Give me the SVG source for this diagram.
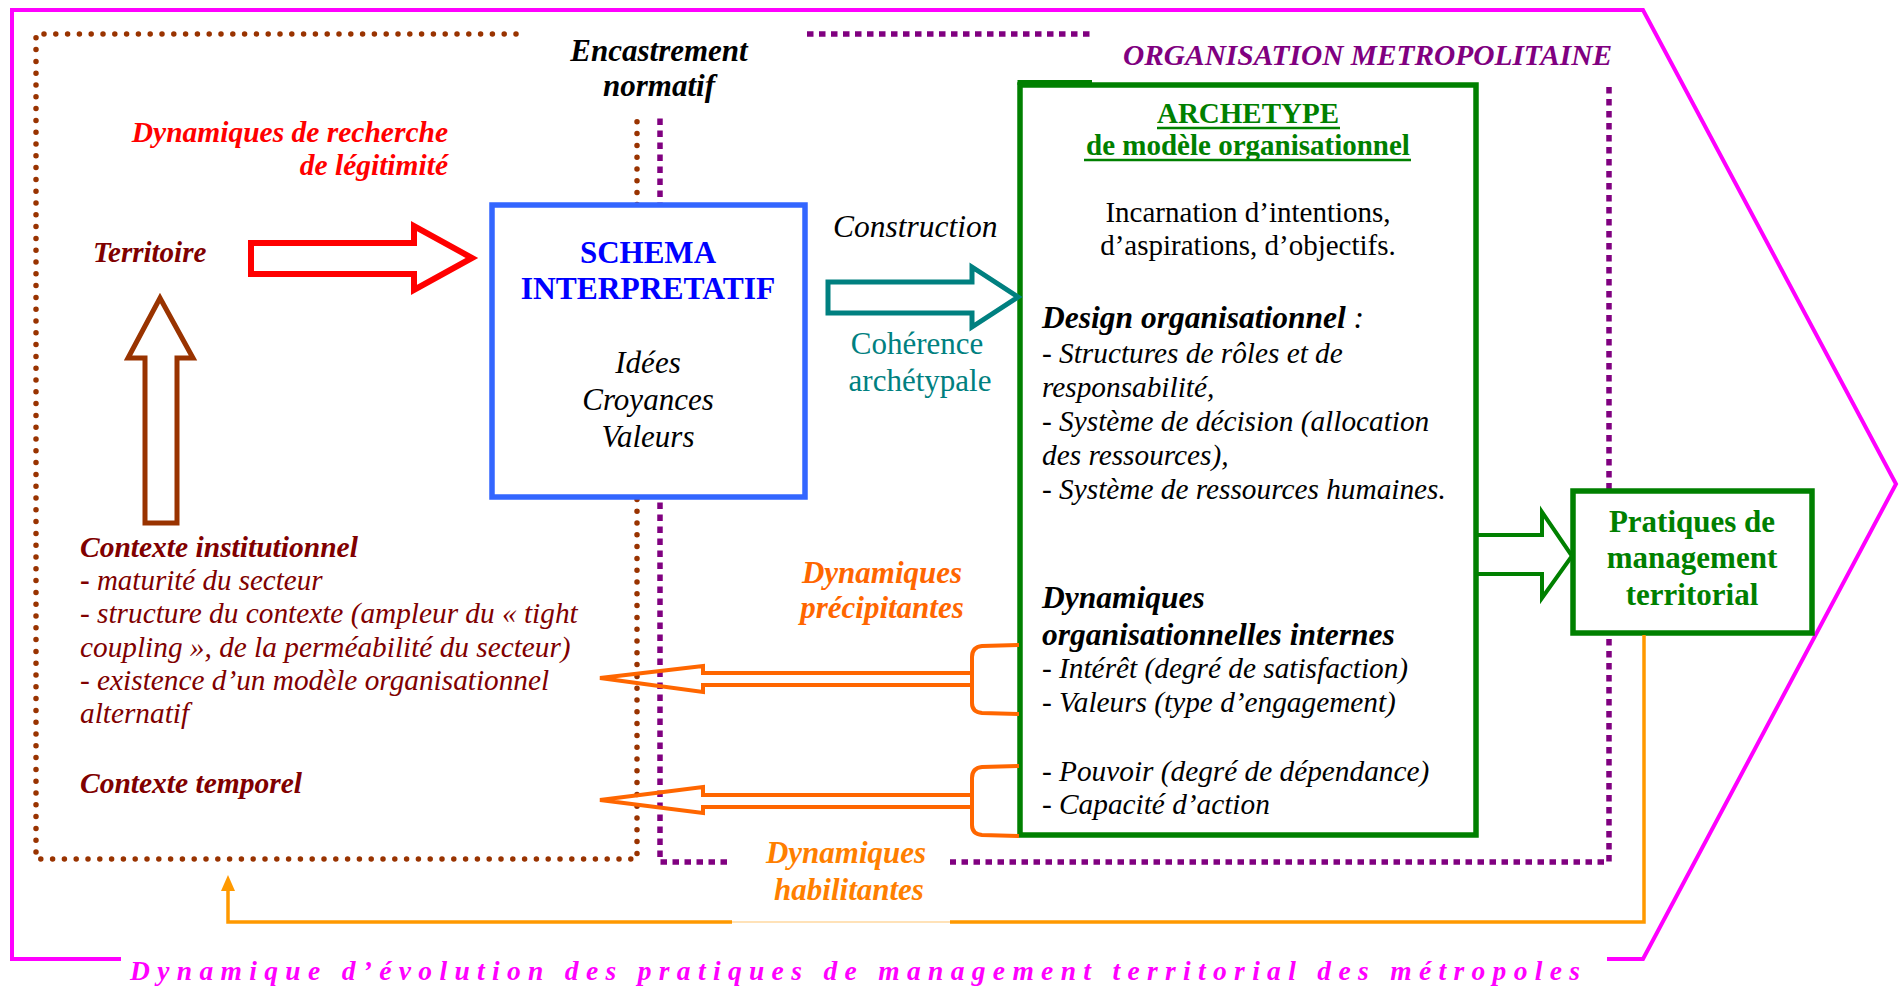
<svg xmlns="http://www.w3.org/2000/svg" width="1903" height="989" viewBox="0 0 1903 989">
<style>
text { font-family: "Liberation Serif", "Times New Roman", serif; }
.bi { font-weight: bold; font-style: italic; }
.i { font-style: italic; }
.b { font-weight: bold; }
.dr { fill: #800000; }
.c { text-anchor: middle; }
.bdot { fill: none; stroke: #993300; stroke-width: 5.5; stroke-linecap: round; stroke-dasharray: 0 11.8; }
.pdot { fill: none; stroke: #800080; stroke-width: 5.5; stroke-dasharray: 6.5 5.5; }
.orange { fill: none; stroke: #FF6600; stroke-width: 4; stroke-linejoin: miter; }
</style>
<rect x="0" y="0" width="1903" height="989" fill="#FFFFFF"/>

<!-- outer pink frame -->
<path d="M 121 959 L 12 959 L 12 10 L 1643 10 L 1896 484 L 1643 959 L 1607 959" fill="none" stroke="#FF00FF" stroke-width="4"/>
<text class="bi" x="130" y="980" font-size="27.5" fill="#FF00FF" textLength="1450" lengthAdjust="spacing">Dynamique d’évolution des pratiques de management territorial des métropoles</text>

<!-- brown dotted frame -->
<g id="cadre-territoire">
<path class="bdot" d="M 516 34 L 36 34 L 36 859 L 637 859 L 637 121"/>
</g>
<!-- purple dotted frame -->
<g id="cadre-organisation">
<path class="pdot" d="M 807 34 L 1090 34"/>
<path class="pdot" d="M 1609 87 L 1609 862 L 950 862"/>
<path class="pdot" d="M 727 862 L 660 862 L 660 118"/>
<text class="bi" x="1123" y="65" font-size="29" fill="#800080" textLength="489" lengthAdjust="spacingAndGlyphs">ORGANISATION METROPOLITAINE</text>
</g>

<g id="encastrement">
<text class="bi c" x="659" y="61" font-size="31" fill="#000">Encastrement</text>
<text class="bi c" x="659" y="96" font-size="31" fill="#000">normatif</text>
</g>

<g id="legitimite">
<text class="bi" x="448" y="142" font-size="29.5" fill="#FF0000" text-anchor="end">Dynamiques de recherche</text>
<text class="bi" x="448" y="175" font-size="29.5" fill="#FF0000" text-anchor="end">de légitimité</text>
</g>

<g id="territoire">
<text class="bi dr" x="93" y="262" font-size="29">Territoire</text>
</g>

<g id="contexte">
<text class="bi dr" x="80" y="557" font-size="29.5">Contexte institutionnel</text>
<text class="i dr" x="80" y="590" font-size="29"><tspan font-weight="bold" font-style="normal">-</tspan> maturité du secteur</text>
<text class="i dr" x="80" y="623" font-size="29.3">- structure du contexte (ampleur du « tight</text>
<text class="i dr" x="80" y="657" font-size="29.3">coupling », de la perméabilité du secteur)</text>
<text class="i dr" x="80" y="690" font-size="29.3">- existence d’un modèle organisationnel</text>
<text class="i dr" x="80" y="723" font-size="29.3">alternatif</text>
<text class="bi dr" x="80" y="793" font-size="29.5">Contexte temporel</text>
</g>

<g id="schema">
<rect x="492" y="205" width="313" height="292" fill="#FFFFFF" stroke="#3366FF" stroke-width="5.5"/>
<text class="b c" x="648" y="263" font-size="31" fill="#0000FF">SCHEMA</text>
<text class="b c" x="648" y="299" font-size="31.5" fill="#0000FF">INTERPRETATIF</text>
<text class="i c" x="648" y="373" font-size="31" fill="#000">Idées</text>
<text class="i c" x="648" y="410" font-size="31" fill="#000">Croyances</text>
<text class="i c" x="648" y="447" font-size="31" fill="#000">Valeurs</text>
</g>

<g id="construction">
<text class="i" x="833" y="237" font-size="31.5" fill="#000">Construction</text>
<text class="c" x="917" y="354" font-size="31" fill="#008080">Cohérence</text>
<text class="c" x="920" y="391" font-size="31" fill="#008080">archétypale</text>
</g>

<g id="archetype">
<rect x="1020" y="85" width="456" height="750" fill="#FFFFFF" stroke="#008000" stroke-width="5.5"/>
<line x1="1017.5" y1="82.5" x2="1092" y2="82.5" stroke="#008000" stroke-width="5"/>
<text class="b c" x="1248" y="123" font-size="29" fill="#008000">ARCHETYPE</text>
<line x1="1157" y1="128" x2="1340" y2="128" stroke="#008000" stroke-width="2.7"/>
<text class="b c" x="1248" y="155" font-size="29" fill="#008000">de modèle organisationnel</text>
<line x1="1084" y1="160" x2="1411" y2="160" stroke="#008000" stroke-width="2.7"/>
<text class="c" x="1248" y="222" font-size="29" fill="#000">Incarnation d’intentions,</text>
<text class="c" x="1248" y="255" font-size="29" fill="#000">d’aspirations, d’objectifs.</text>
<text class="bi" x="1042" y="328" font-size="31.5" fill="#000">Design organisationnel <tspan font-weight="normal">:</tspan></text>
<text class="i" x="1042" y="363" font-size="29.3" fill="#000">- Structures de rôles et de</text>
<text class="i" x="1042" y="397" font-size="29.3" fill="#000">responsabilité,</text>
<text class="i" x="1042" y="431" font-size="29.3" fill="#000">- Système de décision (allocation</text>
<text class="i" x="1042" y="465" font-size="29.3" fill="#000">des ressources),</text>
<text class="i" x="1042" y="499" font-size="29.3" fill="#000">- Système de ressources humaines.</text>
<text class="bi" x="1042" y="608" font-size="31.5" fill="#000">Dynamiques</text>
<text class="bi" x="1042" y="645" font-size="31.5" fill="#000">organisationnelles internes</text>
<text class="i" x="1042" y="678" font-size="29.3" fill="#000">- Intérêt (degré de satisfaction)</text>
<text class="i" x="1042" y="712" font-size="29.3" fill="#000">- Valeurs (type d’engagement)</text>
<text class="i" x="1042" y="781" font-size="29.3" fill="#000">- Pouvoir (degré de dépendance)</text>
<text class="i" x="1042" y="814" font-size="29.3" fill="#000">- Capacité d’action</text>
</g>

<g id="pratiques">
<rect x="1573" y="491" width="239" height="142" fill="#FFFFFF" stroke="#008000" stroke-width="5.5"/>
<text class="b c" x="1692" y="532" font-size="31" fill="#008000">Pratiques de</text>
<text class="b c" x="1692" y="568" font-size="31" fill="#008000">management</text>
<text class="b c" x="1692" y="605" font-size="31" fill="#008000">territorial</text>
</g>

<g id="labels-dynamiques">
<text class="bi c" x="882" y="583" font-size="31" fill="#FF6600">Dynamiques</text>
<text class="bi c" x="882" y="618" font-size="31" fill="#FF6600">précipitantes</text>
<text class="bi c" x="846" y="863" font-size="31" fill="#FF7F00">Dynamiques</text>
<text class="bi c" x="849" y="900" font-size="31" fill="#FF7F00">habilitantes</text>
</g>

<g id="connecteurs">
<!-- Territoire -> Schema -->
<polygon points="251,243 414,243 414,226 472,258 414,290 414,274 251,274" fill="#FFFFFF" stroke="#FF0000" stroke-width="6"/>
<!-- Contexte -> Territoire -->
<polygon points="145,523 177,523 177,358 193,358 160,298 128,358 145,358" fill="#FFFFFF" stroke="#993300" stroke-width="5"/>
<!-- Schema -> Archetype -->
<polygon points="828,282 972,282 972,267 1018,297 972,327 972,313 828,313" fill="#FFFFFF" stroke="#008080" stroke-width="5"/>
<!-- Archetype -> Pratiques -->
<path d="M 1477 535 L 1542 535 L 1542 512 L 1572 556 L 1542 598 L 1542 574 L 1477 574" fill="none" stroke="#008000" stroke-width="4"/>
<!-- dynamiques precipitantes -->
<path class="orange" d="M 972 673 L 703 673 L 703 666 L 600 678 L 703 692 L 703 685 L 972 685"/>
<path class="orange" d="M 1019 645 L 982 646 Q 972 647 972 657 L 972 703 Q 972 712 982 713 L 1019 714"/>
<!-- dynamiques habilitantes -->
<path class="orange" d="M 972 795 L 703 795 L 703 787 L 600 800 L 703 813 L 703 807 L 972 807"/>
<path class="orange" d="M 1019 766 L 982 767 Q 972 768 972 778 L 972 825 Q 972 834 982 835 L 1019 836"/>
<!-- retour pratiques -> contexte -->
<path d="M 1644 635 L 1644 922 L 950 922" fill="none" stroke="#FF9900" stroke-width="3.5"/>
<line x1="732" y1="922" x2="950" y2="922" stroke="#FFE2B8" stroke-width="2"/>
<path d="M 732 922 L 228 922 L 228 889" fill="none" stroke="#FF9900" stroke-width="3.5"/>
<polygon points="228,875 221,891 235,891" fill="#FF9900"/>
</g>
</svg>
